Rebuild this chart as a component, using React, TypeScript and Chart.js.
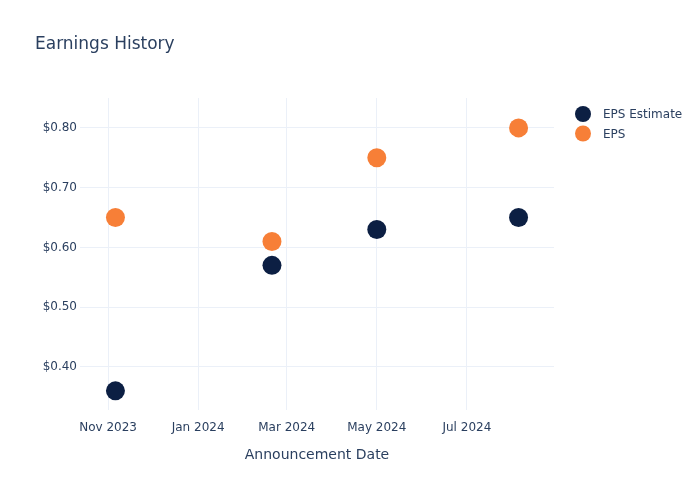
import React, { useEffect, useRef } from "react";
import { Chart, registerables } from "chart.js";

Chart.register(...registerables);

const announcementDates = ["2023-11-06", "2024-02-20", "2024-05-01", "2024-08-05"];
const epsEstimate = [0.36, 0.57, 0.63, 0.65];
const epsActual = [0.65, 0.61, 0.75, 0.8];
const xTickDates = ["2023-11-01", "2024-01-01", "2024-03-01", "2024-05-01", "2024-07-01"];
const xRange = ["2023-10-13", "2024-08-29"];
const yTicks = [0.4, 0.5, 0.6, 0.7, 0.8];
const yRange = [0.328, 0.85];
const seriesNames = ["EPS Estimate", "EPS"];
const seriesColors = ["#0c1f43", "#f77f37"];

const MONTHS = ["Jan", "Feb", "Mar", "Apr", "May", "Jun", "Jul", "Aug", "Sep", "Oct", "Nov", "Dec"];
const toMs = (s: string) => {
  const [y, m, d] = s.split("-").map(Number);
  return Date.UTC(y, m - 1, d);
};
const FONT = "'DejaVu Sans', Verdana, sans-serif";
const TEXT = "#2a3f5f";
const GRID = "#ebf0f8";

const legendPlugin = {
  id: "customLegend",
  afterDraw(chart: any) {
    const ctx = chart.ctx;
    ctx.save();
    seriesNames.forEach((name, i) => {
      const cy = 114 + i * 19.5;
      ctx.beginPath();
      ctx.arc(583, cy, 8, 0, Math.PI * 2);
      ctx.fillStyle = seriesColors[i];
      ctx.fill();
      ctx.fillStyle = TEXT;
      ctx.font = `12px ${FONT}`;
      ctx.textAlign = "left";
      ctx.textBaseline = "middle";
      ctx.fillText(name, 603, cy + 1);
    });
    ctx.restore();
  },
};

export default function App() {
  const ref = useRef<HTMLCanvasElement | null>(null);
  useEffect(() => {
    if (!ref.current) return;
    const datasets = [epsEstimate, epsActual].map((vals, i) => ({
      label: seriesNames[i],
      data: announcementDates.map((d, j) => ({ x: toMs(d), y: vals[j] })),
      backgroundColor: seriesColors[i],
      borderColor: seriesColors[i],
      pointRadius: 9.5,
      pointBorderWidth: 0,
      showLine: false,
    }));
    const chart = new Chart(ref.current, {
      type: "scatter",
      data: { datasets },
      plugins: [legendPlugin],
      options: {
        animation: false,
        responsive: false,
        layout: { padding: { left: 35, right: 146, top: 0, bottom: 0 } },
        plugins: {
          legend: { display: false },
          tooltip: { enabled: false },
          title: {
            display: true,
            text: "Earnings History",
            align: "start",
            color: TEXT,
            font: { family: FONT, size: 17, weight: "normal" },
            padding: { top: 34, bottom: 43.6 },
          },
        },
        scales: {
          x: {
            type: "linear",
            min: toMs(xRange[0]),
            max: toMs(xRange[1]),
            afterBuildTicks: (scale: any) => {
              scale.ticks = xTickDates.map((d) => ({ value: toMs(d) }));
            },
            afterFit: (scale: any) => {
              scale.height = 90;
            },
            ticks: {
              color: TEXT,
              font: { family: FONT, size: 12 },
              padding: 11,
              maxRotation: 0,
              autoSkip: false,
              callback: (v: any) => {
                const d = new Date(Number(v));
                return `${MONTHS[d.getUTCMonth()]} ${d.getUTCFullYear()}`;
              },
            },
            grid: { color: GRID, drawTicks: false },
            border: { display: false },
            title: {
              display: true,
              text: "Announcement Date",
              color: TEXT,
              font: { family: FONT, size: 14 },
              padding: { top: 0, bottom: 36 },
            },
          },
          y: {
            type: "linear",
            min: yRange[0],
            max: yRange[1],
            afterBuildTicks: (scale: any) => {
              scale.ticks = yTicks.map((v) => ({ value: v }));
            },
            afterFit: (scale: any) => {
              scale.width = 45;
            },
            ticks: {
              color: TEXT,
              font: { family: FONT, size: 12 },
              padding: 3,
              callback: (v: any) => "$" + Number(v).toFixed(2),
            },
            grid: { color: GRID, drawTicks: false },
            border: { display: false },
          },
        },
      } as any,
    });
    return () => chart.destroy();
  }, []);
  return (
    <div style={{ position: "absolute", left: 0, top: 0, width: 700, height: 500, background: "#fff" }}>
      <canvas ref={ref} width={700} height={500} style={{ width: 700, height: 500 }} />
    </div>
  );
}
